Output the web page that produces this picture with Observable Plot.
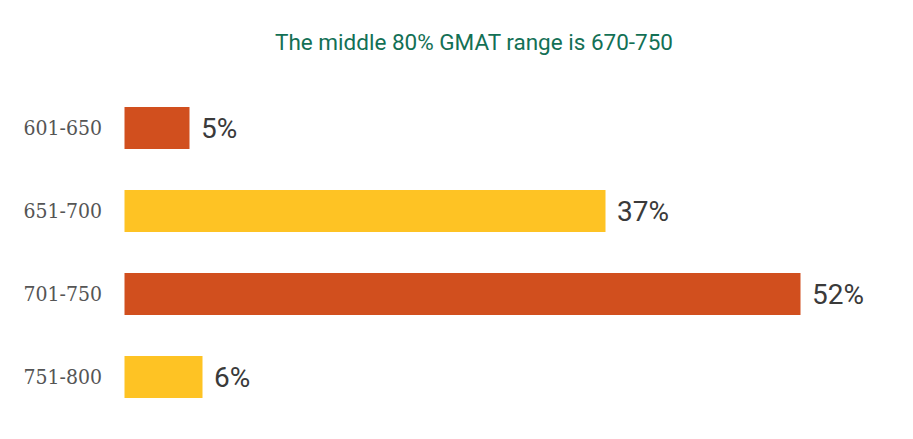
<!DOCTYPE html>
<html>
<head>
<meta charset="utf-8">
<script src="https://cdn.jsdelivr.net/npm/d3@7"></script>
<script src="https://cdn.jsdelivr.net/npm/@observablehq/plot@0.6"></script>
<style>
  html, body { margin: 0; padding: 0; background: #fff; }
  #title { box-sizing: border-box; height: 65px; padding-top: 29px; width: 913px; padding-left: 35px;
    text-align: center; font-family: Roboto, sans-serif; font-size: 22.5px; line-height: 26px; color: #137055; }
</style>
</head>
<body>
<div id="title">The middle 80% GMAT range is 670-750</div>
<div id="chart"></div>
<script>
const ranges = ["601-650", "651-700", "701-750", "751-800"];
const shares = [5, 37, 52, 6];
const barColors = ["#D14F1E", "#FEC324", "#D14F1E", "#FEC324"];

const data = ranges.map((r, i) => ({range: r, share: shares[i], color: barColors[i]}));

const chart = Plot.plot({
  width: 913,
  height: 374,
  marginLeft: 124.5,
  marginRight: 8.5,
  marginTop: 0,
  marginBottom: 0,
  x: {domain: [0, 60], axis: null},
  y: {domain: ranges, padding: 0.5, label: null, tickSize: 0, tickPadding: 24},
  style: {background: "#fff"},
  marks: [
    Plot.barX(data, {y: "range", x: "share", fill: "color"}),
    Plot.axisY({tickSize: 0, tickPadding: 23, fontSize: 21, fontFamily: "'DejaVu Serif Condensed', 'DejaVu Serif', serif", color: "#555", label: null}),
    Plot.text(data, {y: "range", x: "share", text: d => d.share + "%", textAnchor: "start", dx: 11, dy: 1,
      fontSize: 28, fontFamily: "Roboto", fill: "#3a3a3a"})
  ]
});
document.getElementById("chart").appendChild(chart);
</script>
</body>
</html>
